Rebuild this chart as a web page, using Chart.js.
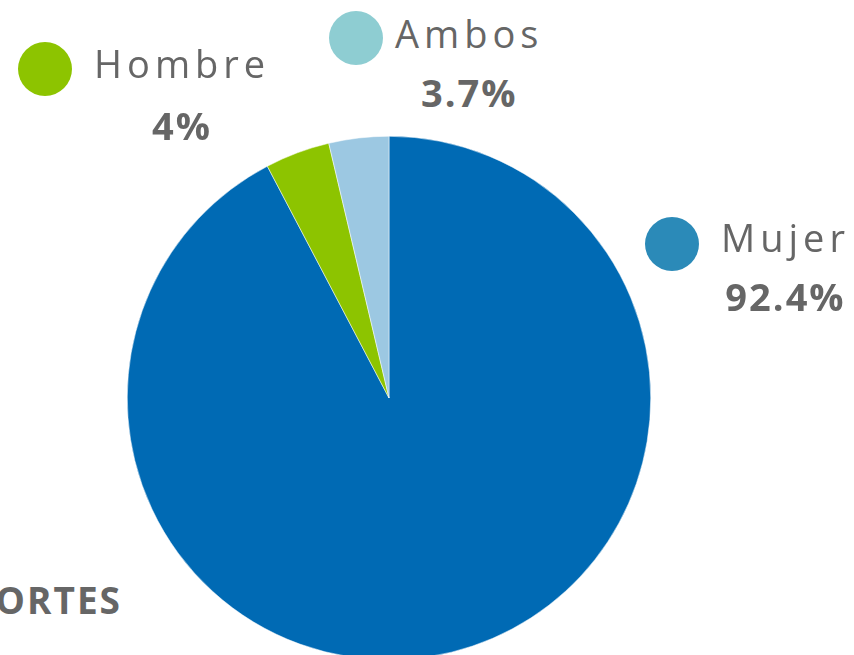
<!DOCTYPE html>
<html lang="es">
<head>
  <meta charset="UTF-8" />
  <title>Distribución por sexo</title>
  <script src="https://cdn.jsdelivr.net/npm/chart.js"></script>
  <style>
    html, body {
      margin: 0;
      width: 854px;
      height: 655px;
      overflow: hidden;
      background: #ffffff;
      font-family: "Open Sans", sans-serif;
      color: #666666;
    }
    .pie-box {
      position: absolute;
      left: 127px;
      top: 136px;
      width: 524px;
      height: 524px;
    }
    .dot {
      position: absolute;
      width: 54px;
      height: 54px;
      border-radius: 50%;
    }
    .tag {
      position: absolute;
      text-align: center;
      white-space: nowrap;
    }
    .tag .name {
      font-size: 38px;
      letter-spacing: 5px;
      line-height: 44px;
    }
    .tag .pct {
      font-size: 38px;
      font-weight: 700;
      letter-spacing: 2px;
      line-height: 44px;
      margin-top: 15px;
    }
    .cut-title {
      position: absolute;
      right: 732px;
      top: 574px;
      font-size: 37px;
      font-weight: 700;
      letter-spacing: 2px;
      white-space: nowrap;
    }
  </style>
</head>
<body>

  <div class="pie-box"><canvas id="pieChart"></canvas></div>
  <div id="tags"></div>
  <div class="cut-title">APORTES</div>

  <script>
    // data, clockwise from 12 o'clock
    const categories = ['Mujer', 'Hombre', 'Ambos'];
    const percents = [92.4, 4, 3.7];
    const pctLabels = ['92.4%', '4%', '3.7%'];
    const sliceColors = ['#006ab4', '#8dc400', '#9cc8e2'];
    const dotColors = ['#2b8ab8', '#8dc400', '#8ecdd2'];

    // where each label sits on the page
    const tagPlaces = [
      { dotX: 645, dotY: 217, textX: 721, textY: 215, pctShift: 0 },
      { dotX: 18,  dotY: 42,  textX: 94,  textY: 41, pctShift: 3 },
      { dotX: 329, dotY: 11,  textX: 395, textY: 11, pctShift: 0 }
    ];

    const tagsEl = document.getElementById('tags');
    categories.forEach((name, i) => {
      const p = tagPlaces[i];
      const dot = document.createElement('div');
      dot.className = 'dot';
      dot.style.left = p.dotX + 'px';
      dot.style.top = p.dotY + 'px';
      dot.style.background = dotColors[i];
      tagsEl.appendChild(dot);

      const tag = document.createElement('div');
      tag.className = 'tag';
      tag.style.left = p.textX + 'px';
      tag.style.top = p.textY + 'px';
      tag.innerHTML = '<div class="name">' + name + '</div><div class="pct" style="position:relative;top:' +
        p.pctShift + 'px">' + pctLabels[i] + '</div>';
      tagsEl.appendChild(tag);
    });

    const ctx = document.getElementById('pieChart').getContext('2d');
    new Chart(ctx, {
      type: 'pie',
      data: {
        labels: categories,
        datasets: [{
          data: percents,
          backgroundColor: sliceColors,
          borderColor: '#ffffff',
          borderWidth: 0.5
        }]
      },
      options: {
        responsive: true,
        maintainAspectRatio: false,
        animation: false,
        layout: { padding: 0 },
        plugins: {
          legend: { display: false },
          tooltip: { enabled: false }
        }
      }
    });
  </script>
</body>
</html>
